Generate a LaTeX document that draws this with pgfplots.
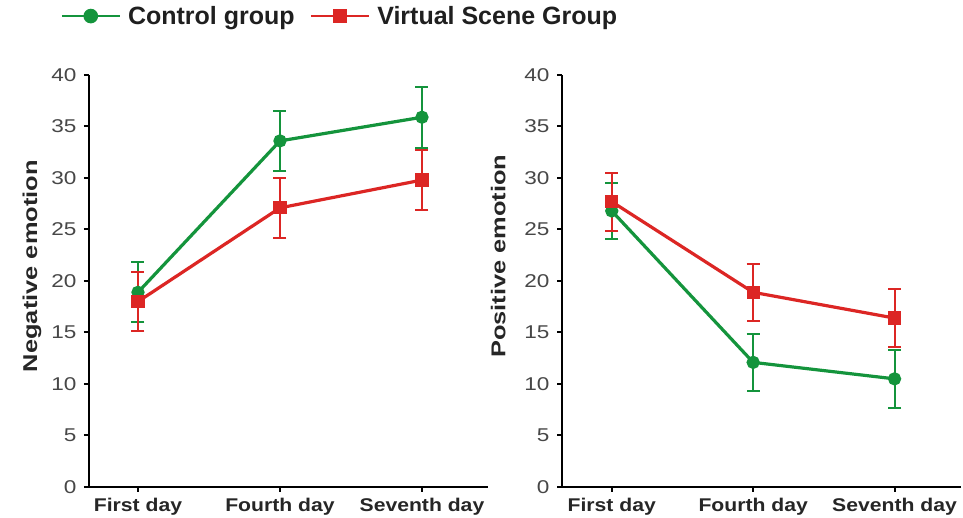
\documentclass[border=0pt]{standalone}
\usepackage{fontspec}
\setmainfont{Liberation Sans}
\newfontfamily\tickfont{Liberation Sans}[FakeStretch=1.22]
\newfontfamily\xfont{Liberation Sans}[FakeStretch=1.15]
\newfontfamily\labfont{Liberation Sans}[FakeStretch=1.27]
\usepackage{pgfplots}
\pgfplotsset{compat=1.18}
\definecolor{cgreen}{RGB}{20,148,60}
\definecolor{cred}{RGB}{220,38,36}
\pgfplotsset{
 myaxis/.style={
  scale only axis, width=399pt, height=412pt,
  xmin=-0.345, xmax=2.465, ymin=0, ymax=40,
  axis x line*=bottom, axis y line*=left,
  axis line style={line width=2pt, -},
  xtick={0,1,2}, xticklabels={First day, Fourth day, Seventh day},
  ytick={0,5,...,40},
  tick align=outside, major tick length=5pt,
  tick style={line width=2pt, black},
  x tick label style={font=\xfont\fontsize{18.4}{21}\selectfont\bfseries, color=black!85, yshift=-3pt},
  y tick label style={font=\tickfont\fontsize{18.5}{21}\selectfont, color=black!72, xshift=-4pt},
  /pgf/number format/assume math mode=true,
  ylabel style={font=\labfont\fontsize{20}{23}\selectfont\bfseries, color=black!85},
  clip=false,
 },
 gplot/.style={color=cgreen, line width=3.2pt, mark=*, mark size=5pt,
   mark options={solid},
   error bars/.cd, y dir=both, y explicit,
   error bar style={line width=2pt},
   error mark options={rotate=90, mark size=6.5pt, line width=2pt}},
 rplot/.style={color=cred, line width=3.2pt, mark=square*, mark size=5pt,
   mark options={solid},
   error bars/.cd, y dir=both, y explicit,
   error bar style={line width=2pt},
   error mark options={rotate=90, mark size=6.5pt, line width=2pt}},
}
\begin{document}
\begin{tikzpicture}
\useasboundingbox (-89pt,-31pt) rectangle (874pt,487pt);
\begin{axis}[myaxis,
  ylabel={Negative emotion},
  ylabel style={at={(axis description cs:-0.143,0.536)}, anchor=center},
  legend style={at={(axis description cs:-0.072,1.143)}, anchor=west, draw=none, fill=none,
    font=\fontsize{25}{28}\selectfont\bfseries, text=black!88, legend columns=2,
    /tikz/every odd column/.append style={column sep=5pt},
    /tikz/every even column/.append style={column sep=13pt}, inner sep=0pt},
  legend image code/.code={\draw[mark repeat=2,mark phase=2,#1,line width=2.6pt,mark size=6pt] plot coordinates {(0pt,0pt)(29pt,0pt)(58pt,0pt)};},
]
\addplot[gplot] coordinates {(0,18.9) +- (0,2.9) (1,33.6) +- (0,2.9) (2,35.9) +- (0,2.95)};
\addlegendentry{Control group}
\addplot[rplot] coordinates {(0,18.0) +- (0,2.9) (1,27.1) +- (0,2.9) (2,29.8) +- (0,2.9)};
\addlegendentry{Virtual Scene Group}
\end{axis}
\begin{axis}[myaxis, at={(473pt,0pt)}, anchor=south west,
  xmin=-0.352, xmax=2.47,
  ylabel={Positive emotion},
  ylabel style={at={(axis description cs:-0.16,0.56)}, anchor=center},
]
\addplot[gplot] coordinates {(0,26.8) +- (0,2.75) (1,12.1) +- (0,2.8) (2,10.5) +- (0,2.8)};
\addplot[rplot] coordinates {(0,27.7) +- (0,2.8) (1,18.9) +- (0,2.75) (2,16.4) +- (0,2.85)};
\end{axis}
\end{tikzpicture}
\end{document}
